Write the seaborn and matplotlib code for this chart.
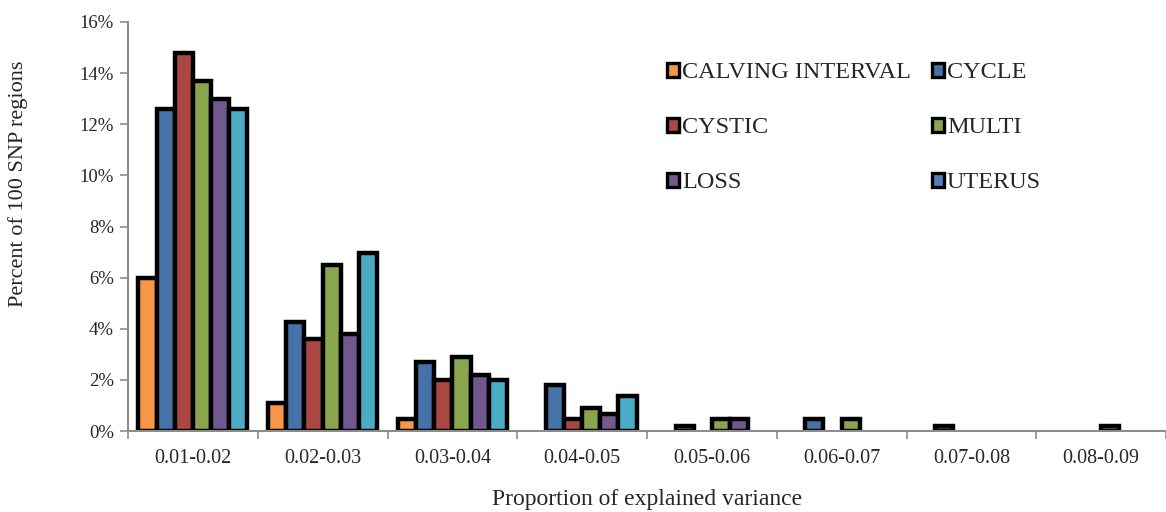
import matplotlib
matplotlib.use("Agg")
import matplotlib.pyplot as plt
from matplotlib.patches import Patch
from matplotlib.ticker import FuncFormatter, FixedLocator
import seaborn as sns
import pandas as pd

categories = ["0.01-0.02", "0.02-0.03", "0.03-0.04", "0.04-0.05",
              "0.05-0.06", "0.06-0.07", "0.07-0.08", "0.08-0.09"]
series = ["CALVING INTERVAL", "CYCLE", "CYSTIC", "MULTI", "LOSS", "UTERUS"]
calving = [6.0, 1.1, 0.45, 0.0, 0.0, 0.0, 0.0, 0.0]
cycle = [12.6, 4.25, 2.7, 1.8, 0.2, 0.45, 0.2, 0.0]
cystic = [14.8, 3.6, 2.0, 0.45, 0.0, 0.0, 0.0, 0.0]
multi = [13.7, 6.5, 2.9, 0.9, 0.45, 0.45, 0.0, 0.2]
loss = [13.0, 3.8, 2.2, 0.65, 0.45, 0.0, 0.0, 0.0]
uterus = [12.6, 6.95, 2.0, 1.35, 0.0, 0.0, 0.0, 0.0]
colors = ["#F79646", "#4572A7", "#AA4643", "#89A54E", "#71588F", "#4BACC6"]
legend_colors = ["#F79646", "#4572A7", "#AA4643", "#89A54E", "#71588F", "#4F81BD"]

values = [calving, cycle, cystic, multi, loss, uterus]
rows = []
for s, vals in zip(series, values):
    for c, v in zip(categories, vals):
        rows.append({"cat": c, "series": s, "val": v})
df = pd.DataFrame(rows)

sns.set_style("white")
plt.rcParams["font.family"] = ["Liberation Serif", "DejaVu Serif"]

fig = plt.figure(figsize=(11.66, 5.12), dpi=100)
ax = fig.add_axes([128 / 1166, 81 / 512, 1 - 128 / 1166, (431 - 22) / 512])

sns.barplot(data=df, x="cat", y="val", hue="series", order=categories,
            hue_order=series, palette=colors, saturation=1, width=0.84, gap=0,
            edgecolor="black", linewidth=3.2, ax=ax, legend=False)

for p in ax.patches:
    if p.get_height() == 0:
        p.set_visible(False)

ax.set_xlim(-0.5, 7.5)
ax.set_ylim(0, 16)
ax.set_yticks(range(0, 17, 2))
ax.yaxis.set_major_formatter(FuncFormatter(lambda v, p: f"{int(v)}%"))
ax.tick_params(axis="y", which="major", direction="out", length=6,
               color="#8c8c8c", width=1.2, labelsize=13.5, pad=4, left=True)
ax.tick_params(axis="x", which="major", length=0, labelsize=14.5, pad=13)
ax.xaxis.set_minor_locator(FixedLocator([i + 0.5 for i in range(-1, 8)]))
ax.tick_params(axis="x", which="minor", direction="out", length=6,
               color="#8c8c8c", width=1.2, bottom=True)

for side in ["top", "right"]:
    ax.spines[side].set_visible(False)
for side in ["left", "bottom"]:
    ax.spines[side].set_color("#8c8c8c")
    ax.spines[side].set_linewidth(1.5)

ax.set_ylabel("Percent of 100 SNP regions", fontsize=16, ha="center", va="center")
ax.yaxis.set_label_coords((18 - 128) / 1038, (431 - 184) / 409)
ax.set_xlabel("Proportion of explained variance", fontsize=17)
ax.xaxis.set_label_coords(0.5, -0.143)

handles = [Patch(facecolor=c, edgecolor="black", linewidth=2.4, label=s)
           for s, c in zip(series, legend_colors)]
order = [0, 2, 4, 1, 3, 5]
leg = ax.legend([handles[i] for i in order], [series[i] for i in order],
                ncol=2, loc="upper left", bbox_to_anchor=(0.51, 0.925),
                frameon=False, fontsize=17.5, handlelength=0.5,
                handleheight=0.5, handletextpad=0.12, columnspacing=0.85,
                labelspacing=1.4, borderaxespad=0)

fig.savefig("out.png", dpi=100)
